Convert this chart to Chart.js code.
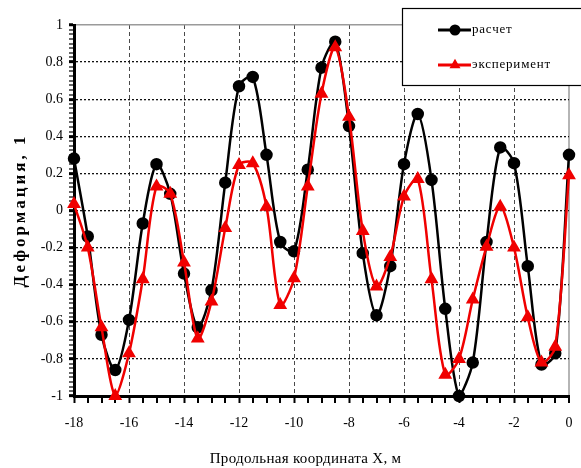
<!DOCTYPE html>
<html>
<head>
<meta charset="utf-8">
<script src="https://cdn.jsdelivr.net/npm/chart.js@4.4.1/dist/chart.umd.min.js"></script>
<style>
    html, body { margin: 0; padding: 0; background: #fff; }
    #wrap { width: 581px; height: 468px; }
</style>
</head>
<body>
<div id="wrap"><canvas id="deformChart" width="581" height="468"></canvas></div>
<script>
// Продольная координата X, м
const xCoords = [-18, -17.5, -17, -16.5, -16, -15.5, -15, -14.5, -14, -13.5, -13, -12.5,
    -12, -11.5, -11, -10.5, -10, -9.5, -9, -8.5, -8, -7.5, -7, -6.5, -6, -5.5, -5, -4.5,
    -4, -3.5, -3, -2.5, -2, -1.5, -1, -0.5, 0];

// расчет
const calcValues = [0.28, -0.14, -0.67, -0.86, -0.59, -0.07, 0.25, 0.09, -0.34, -0.63, -0.43, 0.15,
    0.67, 0.72, 0.30, -0.17, -0.22, 0.22, 0.77, 0.91, 0.455, -0.23, -0.565, -0.30, 0.25, 0.52, 0.165, -0.53,
    -1.0, -0.82, -0.17, 0.34, 0.255, -0.30, -0.83, -0.77, 0.30];

// эксперимент
const expValues = [0.035, -0.20, -0.63, -1.0, -0.77, -0.37, 0.13, 0.09, -0.28, -0.69, -0.49, -0.095,
    0.245, 0.255, 0.02, -0.51, -0.365, 0.13, 0.63, 0.88, 0.505, -0.11, -0.41, -0.25, 0.075, 0.17, -0.37, -0.885,
    -0.80, -0.48, -0.195, 0.02, -0.20, -0.575, -0.82, -0.735, 0.19];

const seriesNames = ["расчет", "эксперимент"];
const xTickLabels = [-18, -16, -14, -12, -10, -8, -6, -4, -2, 0];
const yTickLabels = [-1, -0.8, -0.6, -0.4, -0.2, 0, 0.2, 0.4, 0.6, 0.8, 1];
const xTitle = "Продольная координата X, м";
const yTitle = "Деформация, 1";

Chart.defaults.font.family = "'Liberation Serif', 'DejaVu Serif', serif";
Chart.defaults.color = "#000";

function toPoints(values) {
    return xCoords.map((x, i) => ({ x: x, y: values[i] }));
}

function isXMajor(c) {
    return !!c.tick && xTickLabels.includes(c.tick.value);
}

function isYMajor(c) {
    return !!c.tick && yTickLabels.some(v => Math.abs(v - c.tick.value) < 1e-6);
}

// letter spacing and nudge for the axis titles
const titleSpacing = { x: "0.3px", y: "3px" };
const titleShift = { x: -16, y: 0 };

const spacedTitles = {
    id: "spacedTitles",
    beforeDraw(chart) {
        Object.values(chart.scales).forEach(scale => {
            if (scale._spacingPatched) {
                return;
            }
            const orig = scale.drawTitle;
            scale.drawTitle = function () {
                this.ctx.save();
                this.ctx.letterSpacing = titleSpacing[this.id] || "0px";
                this.ctx.translate(titleShift[this.id] || 0, 0);
                orig.apply(this, arguments);
                this.ctx.restore();
            };
            scale._spacingPatched = true;
        });
    }
};

function drawMarker(ctx, style, x, y, r) {
    ctx.beginPath();
    if (style === "triangle") {
        ctx.moveTo(x, y - r * 1.15);
        ctx.lineTo(x + r, y + r * 0.6);
        ctx.lineTo(x - r, y + r * 0.6);
        ctx.closePath();
    } else {
        ctx.arc(x, y, r, 0, Math.PI * 2);
    }
    ctx.fill();
}

const legendBox = {
    id: "legendBox",
    afterDraw(chart) {
        const { ctx } = chart;
        ctx.save();
        ctx.fillStyle = "#fff";
        ctx.strokeStyle = "#000";
        ctx.lineWidth = 1.2;
        ctx.fillRect(402, 8, 190, 77);
        ctx.strokeRect(402.5, 8.5, 190, 77);

        chart.data.datasets.forEach((ds, i) => {
            const y = 30 + i * 35;
            ctx.strokeStyle = ds.borderColor;
            ctx.lineWidth = 3;
            ctx.beginPath();
            ctx.moveTo(438, y);
            ctx.lineTo(471, y);
            ctx.stroke();
            ctx.fillStyle = ds.pointBackgroundColor;
            drawMarker(ctx, ds.pointStyle, 455, y, 5.5);

            ctx.fillStyle = "#000";
            ctx.font = "13px 'Liberation Serif', serif";
            ctx.letterSpacing = "0.8px";
            ctx.textBaseline = "middle";
            ctx.textAlign = "left";
            ctx.fillText(ds.label, 472, y);
        });
        ctx.restore();
    }
};

new Chart(document.getElementById("deformChart"), {
    type: "line",
    data: {
        datasets: [{
            label: seriesNames[0],
            data: toPoints(calcValues),
            borderColor: "#000",
            backgroundColor: "#000",
            pointBackgroundColor: "#000",
            pointBorderColor: "#000",
            pointStyle: "circle",
            pointRadius: 5,
            borderWidth: 2.5,
            tension: 0.3,
            clip: 8,
            order: 1
        }, {
            label: seriesNames[1],
            data: toPoints(expValues),
            borderColor: "#f00000",
            backgroundColor: "#f00000",
            pointBackgroundColor: "#f00000",
            pointBorderColor: "#f00000",
            pointStyle: "triangle",
            pointRadius: 5.5,
            borderWidth: 2.5,
            tension: 0.3,
            clip: 8,
            order: 0
        }]
    },
    options: {
        responsive: false,
        animation: false,
        layout: { padding: { left: 0, top: 25, right: 12, bottom: 0 } },
        plugins: {
            legend: { display: false },
            tooltip: { enabled: false }
        },
        scales: {
            x: {
                type: "linear",
                min: -18,
                max: 0,
                afterFit(scale) { scale.height = 72; },
                ticks: {
                    stepSize: 0.5,
                    autoSkip: false,
                    maxRotation: 0,
                    padding: 8,
                    font: { size: 14 },
                    callback(value) {
                        return xTickLabels.includes(value) ? String(value) : "";
                    }
                },
                grid: {
                    drawTicks: true,
                    tickLength: 11,
                    tickWidth: 2,
                    tickColor: "#000",
                    tickBorderDash: [5, 30],
                    lineWidth: c => isXMajor(c) ? (c.tick.value === 0 ? 2 : 1) : 0,
                    color: c => (c.tick && c.tick.value === 0) ? "#b5b5b5" : "#4a4a4a"
                },
                border: {
                    display: true,
                    width: 3,
                    color: "#000",
                    dash: c => (c.tick && c.tick.value === 0) ? [] : [4, 3]
                },
                title: {
                    display: true,
                    text: xTitle,
                    font: { size: 15 },
                    padding: { top: 0, bottom: 0 }
                }
            },
            y: {
                min: -1,
                max: 1,
                afterFit(scale) { scale.width = 74; },
                ticks: {
                    stepSize: 0.025,
                    autoSkip: false,
                    padding: 6,
                    font: { size: 14 },
                    callback(value) {
                        const hit = yTickLabels.find(v => Math.abs(v - value) < 1e-6);
                        return hit === undefined ? "" : String(hit);
                    }
                },
                grid: {
                    drawTicks: true,
                    tickLength: 5,
                    tickWidth: c => isYMajor(c) ? 3 : 1.2,
                    tickColor: "#000",
                    lineWidth: c => isYMajor(c) ? (Math.abs(c.tick.value - 1) < 1e-6 ? 1.5 : 1.3) : 0,
                    color: c => (c.tick && Math.abs(c.tick.value - 1) < 1e-6) ? "#9a9a9a" : "#111"
                },
                border: {
                    display: true,
                    width: 3,
                    color: "#000",
                    dash: c => (c.tick && Math.abs(c.tick.value - 1) < 1e-6) ? [] : [2, 2]
                },
                title: {
                    display: true,
                    text: yTitle,
                    font: { size: 17, weight: "bold" },
                    padding: { top: 10, bottom: 0 }
                }
            }
        }
    },
    plugins: [spacedTitles, legendBox]
});
</script>
</body>
</html>
